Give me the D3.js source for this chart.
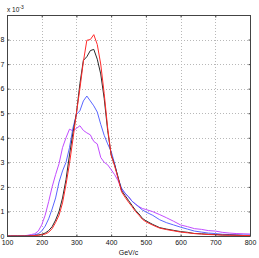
<!DOCTYPE html>
<html><head><meta charset="utf-8">
<script src="https://cdn.jsdelivr.net/npm/d3@7"></script>
<style>body{margin:0;background:#fff}svg{display:block}text{font-family:"Liberation Sans",Arial,sans-serif}</style>
</head><body>
<script>
const mass = [100,110,120,130,140,150,160,170,180,190,200,210,220,230,240,250,260,270,280,290,300,310,320,330,340,350,360,370,380,390,400,410,420,430,440,450,460,470,480,490,500,520,540,560,580,600,620,640,660,680,700,720,740,760,780,800];
const redVals = [0,0,0,0,0,0,0,0.01,0.02,0.03,0.05,0.08,0.15,0.3,0.55,0.85,1.35,2.1,2.95,3.95,5.0,6.0,7.1,7.97,8.0,8.2,7.8,7.0,5.8,4.4,3.3,2.85,2.35,1.8,1.58,1.38,1.2,1.0,0.85,0.68,0.58,0.44,0.32,0.26,0.21,0.16,0.13,0.1,0.08,0.06,0.05,0.04,0.03,0.03,0.02,0.02];
const blackVals = [0,0,0,0,0,0,0,0.01,0.02,0.04,0.07,0.12,0.22,0.38,0.65,1.0,1.55,2.3,3.3,4.2,5.0,6.2,7.15,7.3,7.55,7.6,7.2,6.6,5.6,4.3,3.3,2.9,2.4,1.85,1.65,1.45,1.25,1.05,0.9,0.72,0.62,0.47,0.34,0.28,0.23,0.18,0.15,0.1,0.09,0.07,0.06,0.04,0.04,0.03,0.02,0.02];
const blueVals = [0,0,0,0,0,0,0.01,0.02,0.05,0.09,0.2,0.4,0.7,1.1,1.55,2.2,2.65,3.0,3.6,4.4,4.95,5.1,5.5,5.7,5.5,5.3,5.05,4.55,4.1,3.75,3.45,2.95,2.35,1.95,1.75,1.6,1.42,1.3,1.18,1.06,0.98,0.84,0.66,0.54,0.45,0.36,0.28,0.2,0.16,0.12,0.1,0.07,0.06,0.05,0.04,0.04];
const magentaVals = [0,0,0,0,0,0.01,0.03,0.06,0.09,0.2,0.45,0.85,1.4,2.0,2.5,2.95,3.6,4.0,4.35,4.28,4.38,4.49,4.3,4.2,4.12,3.85,3.75,3.2,3.0,2.9,2.7,2.5,2.25,1.9,1.73,1.6,1.42,1.3,1.2,1.12,1.08,0.99,0.87,0.74,0.6,0.45,0.38,0.3,0.27,0.22,0.2,0.15,0.12,0.1,0.09,0.08];
const xTicks = [100,200,300,400,500,600,700,800];
const yTicks = [0,1,2,3,4,5,6,7,8];
const seriesNames = ["magenta","blue","black","red"];
const seriesColors = ["#c24cff","#5a66ff","#2a2a2a","#ff2a2a"];

const W = 259, H = 258;
const m = {left:7, right:9, top:15, bottom:22};
const svg = d3.select("body").append("svg").attr("width",W).attr("height",H);
const x = d3.scaleLinear().domain([100,800]).range([m.left, W-m.right]);
const y = d3.scaleLinear().domain([0,9]).range([H-m.bottom, m.top]);

// grid
const g = svg.append("g");
g.selectAll(".gx").data(xTicks.slice(1,-1)).join("line")
  .attr("x1",d=>Math.round(x(d))+0.5).attr("x2",d=>Math.round(x(d))+0.5)
  .attr("y1",y(0)).attr("y2",y(9))
  .attr("stroke","#b8b8b8").attr("stroke-dasharray","1,2");
g.selectAll(".gy").data(yTicks.slice(1)).join("line")
  .attr("y1",d=>Math.round(y(d))+0.5).attr("y2",d=>Math.round(y(d))+0.5)
  .attr("x1",x(100)).attr("x2",x(800))
  .attr("stroke","#b8b8b8").attr("stroke-dasharray","1,2");

// lines
const allVals = [magentaVals, blueVals, blackVals, redVals];
const line = d3.line().x((d,i)=>x(mass[i])).y(d=>y(d));
svg.selectAll(".series").data(allVals).join("path")
  .attr("d",d=>line(d)).attr("fill","none")
  .attr("stroke",(d,i)=>seriesColors[i]).attr("stroke-width",1);

// axes with inward ticks
const fs = "7px";
const axB = svg.append("g").attr("transform",`translate(0,${Math.round(y(0))+0.5})`)
  .call(d3.axisBottom(x).tickValues(xTicks).tickSize(-2).tickPadding(4).tickFormat(d3.format("d")));
const axT = svg.append("g").attr("transform",`translate(0,${Math.round(y(9))+0.5})`)
  .call(d3.axisTop(x).tickValues(xTicks).tickSize(-2).tickFormat(""));
const axL = svg.append("g").attr("transform",`translate(${Math.round(x(100))+0.5},0)`)
  .call(d3.axisLeft(y).tickValues(yTicks).tickSize(-2).tickPadding(3).tickFormat(d3.format("d")));
const axR = svg.append("g").attr("transform",`translate(${Math.round(x(800))+0.5},0)`)
  .call(d3.axisRight(y).tickValues(yTicks).tickSize(-2).tickFormat(""));
[axB,axT,axL,axR].forEach(a=>{
  a.selectAll("path").attr("stroke","#444");
  a.selectAll("line").attr("stroke","#444");
  a.selectAll("text").attr("font-size",fs).attr("fill","#111").attr("font-family","Liberation Sans, Arial, sans-serif");
});
axB.selectAll(".domain").attr("d",`M${x(100)},0H${x(800)}`);
axT.selectAll(".domain").attr("d",`M${x(100)},0H${x(800)}`);
axL.selectAll(".domain").attr("d",`M0,${y(0)}V${y(9)}`);
axR.selectAll(".domain").attr("d",`M0,${y(0)}V${y(9)}`);

// labels
svg.append("text").attr("x",(x(100)+x(800))/2).attr("y",H-3)
  .attr("text-anchor","middle").attr("font-size",fs).attr("fill","#111").text("GeV/c");
const ex = svg.append("text").attr("x",7).attr("y",12).attr("font-size","6.5px").attr("fill","#111");
ex.append("tspan").text("x 10");
ex.append("tspan").attr("dy",-3).attr("font-size","5px").text("-3");
</script>
</body></html>
